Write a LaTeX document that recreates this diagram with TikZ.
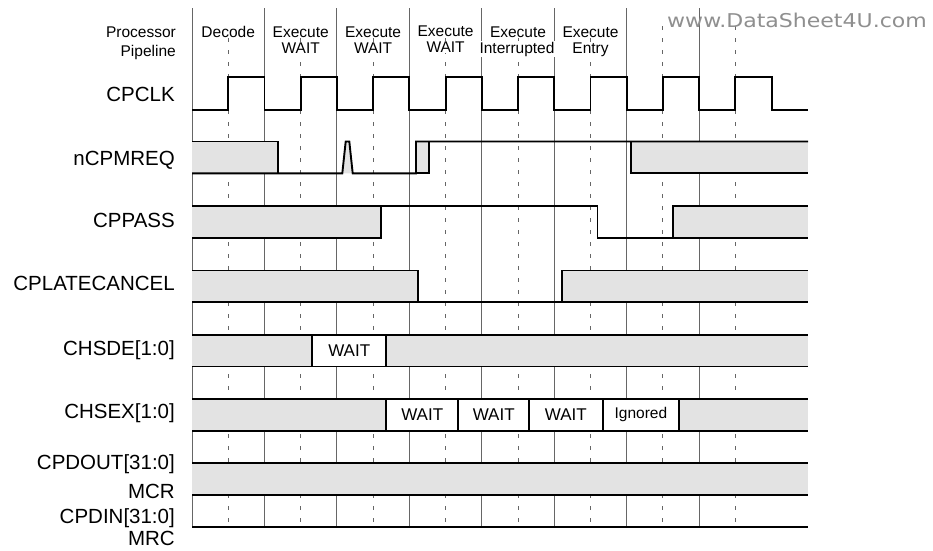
\documentclass[tikz,border=0pt]{standalone}
\usepackage{fontspec}
\setmainfont{Liberation Sans}
\newfontfamily\wmfont{DejaVu Sans}
\definecolor{shadec}{gray}{0.89}
\definecolor{gridc}{gray}{0.40}
\definecolor{wmc}{gray}{0.56}
\begin{document}
\begin{tikzpicture}[x=1pt,y=-1pt,
  sig/.style={line width=1.9pt, line join=miter},
  gridline/.style={line width=0.9pt, draw=gridc},
  dashline/.style={line width=1pt, draw=gridc, dash pattern=on 4pt off 8pt},
  lbl/.style={anchor=base east, inner sep=0pt, font=\fontsize{20.5}{24}\selectfont},
  hdr/.style={anchor=base, inner sep=0.6pt, fill=white, font=\fontsize{15.5}{18}\selectfont},
  hdrl/.style={anchor=base east, inner sep=0pt, font=\fontsize{15.5}{18}\selectfont},
  bus/.style={inner sep=0pt, font=\fontsize{17}{20}\selectfont},
]
\useasboundingbox (0,0) rectangle (933,550);
\fill[white] (0,0) rectangle (933,550);

% grid
\foreach \k in {0,...,7}{
  \pgfmathsetmacro{\xs}{192+\k*72.45}
  \pgfmathsetmacro{\xd}{228.23+\k*72.45}
  \draw[gridline] (\xs,8) -- (\xs,527);
  \draw[dashline] (\xd,26) -- (\xd,527);
}

% header
\node[hdrl] (pp1) at (176,37.3) {Processor};
\node[hdrl] (pp2) at (176,56) {Pipeline};
\node[hdr] (h1) at (228.2,37) {Decode};
\node[hdr] (h2a) at (300.7,37) {Execute};
\node[hdr] (h2b) at (300.7,53) {WAIT};
\node[hdr] (h3a) at (373.1,37) {Execute};
\node[hdr] (h3b) at (373.1,53) {WAIT};
\node[hdr] (h4a) at (445.6,36) {Execute};
\node[hdr] (h4b) at (445.6,52.5) {WAIT};
\node[hdr] (h5a) at (518.0,37) {Execute};
\node[hdr] (h5b) at (517.0,53) {Interrupted};
\node[hdr] (h6a) at (590.5,37) {Execute};
\node[hdr] (h6b) at (590.5,53) {Entry};
\node[text=wmc, inner sep=0pt, xscale=1.16, transform shape, font=\wmfont\fontsize{19}{21}\selectfont] (wm) at (797,20) {www.DataSheet4U.com};

% labels
\node[lbl] (lclk) at (175,101.7) {CPCLK};
\node[lbl] (lreq) at (175,165.5) {nCPMREQ};
\node[lbl] (lpass) at (175,227.3) {CPPASS};
\node[lbl] (llc) at (175,290.7) {CPLATECANCEL};
\node[lbl] (lsde) at (175,355) {CHSDE[1:0]};
\node[lbl] (lsex) at (175,418.3) {CHSEX[1:0]};
\node[lbl] (ldout) at (175,469) {CPDOUT[31:0]};
\node[lbl] (lmcr) at (175,498.5) {MCR};
\node[lbl] (ldin) at (175,523.5) {CPDIN[31:0]};
\node[lbl] (lmrc) at (175,545.5) {MRC};

% CPCLK
\draw[sig] (192,110) \foreach \k in {0,...,7}{ -- ({228.23+\k*72.45},110) -- ({228.23+\k*72.45},77) -- ({264.45+\k*72.45},77) -- ({264.45+\k*72.45},110) } -- (808,110);

% nCPMREQ
\fill[shadec] (192,141.5) rectangle (277.7,173.3);
\fill[shadec] (342.3,173.3) -- (345.7,141.5) -- (349.3,141.5) -- (352.7,173.3) -- cycle;
\fill[shadec] (416,141.5) rectangle (429.3,173.3);
\fill[shadec] (631,141.5) rectangle (808,173.3);
\draw[sig] (192,141.5) -- (277.7,141.5) -- (277.7,173.3);
\draw[sig] (192,173.3) -- (342.3,173.3) -- (345.7,141.5) -- (349.3,141.5) -- (352.7,173.3) -- (416,173.3) -- (416,141.5) -- (808,141.5);
\draw[sig] (416,173.3) -- (429.3,173.3) -- (429.3,141.5);
\draw[sig] (631,141.5) -- (631,173.3) -- (808,173.3);

% CPPASS
\fill[shadec] (192,206) rectangle (380.7,238);
\fill[shadec] (672.7,206) rectangle (808,238);
\draw[sig] (192,238) -- (380.7,238) -- (380.7,206);
\draw[sig] (192,206) -- (597.5,206) -- (597.5,238) -- (808,238);
\draw[sig] (672.7,238) -- (672.7,206) -- (808,206);

% CPLATECANCEL
\fill[shadec] (192,270.5) rectangle (418.3,302);
\fill[shadec] (562,270.5) rectangle (808,302);
\draw[sig] (192,270.5) -- (418.3,270.5) -- (418.3,302);
\draw[sig] (192,302) -- (808,302);
\draw[sig] (562,302) -- (562,270.5) -- (808,270.5);

% CHSDE
\fill[shadec] (192,335) rectangle (312.3,366.5);
\fill[white] (312.3,335) rectangle (386,366.5);
\fill[shadec] (386,335) rectangle (808,366.5);
\draw[sig] (192,335) -- (808,335);
\draw[sig] (192,366.5) -- (808,366.5);
\draw[sig] (312.3,335) -- (312.3,366.5);
\draw[sig] (386,335) -- (386,366.5);
\node[bus] (wsde) at (349.2,350.8) {WAIT};

% CHSEX
\fill[shadec] (192,399) rectangle (386,430.7);
\fill[white] (386,399) rectangle (679,430.7);
\fill[shadec] (679,399) rectangle (808,430.7);
\draw[sig] (192,399) -- (808,399);
\draw[sig] (192,430.7) -- (808,430.7);
\foreach \xx in {386,458.3,529,602.7,679}{
  \draw[sig] (\xx,399) -- (\xx,430.7);
}
\node[bus] (wx1) at (422.2,414.9) {WAIT};
\node[bus] (wx2) at (493.7,414.9) {WAIT};
\node[bus] (wx3) at (565.9,414.9) {WAIT};
\node[bus, font=\fontsize{15.5}{18}\selectfont] (ign) at (640.9,414.9) {Ignored};

% CPDOUT
\fill[shadec] (192,463) rectangle (808,494.7);
\draw[sig] (192,463) -- (808,463);
\draw[sig] (192,494.7) -- (808,494.7);

% CPDIN
\draw[sig] (192,527) -- (808,527);
\end{tikzpicture}
\end{document}
